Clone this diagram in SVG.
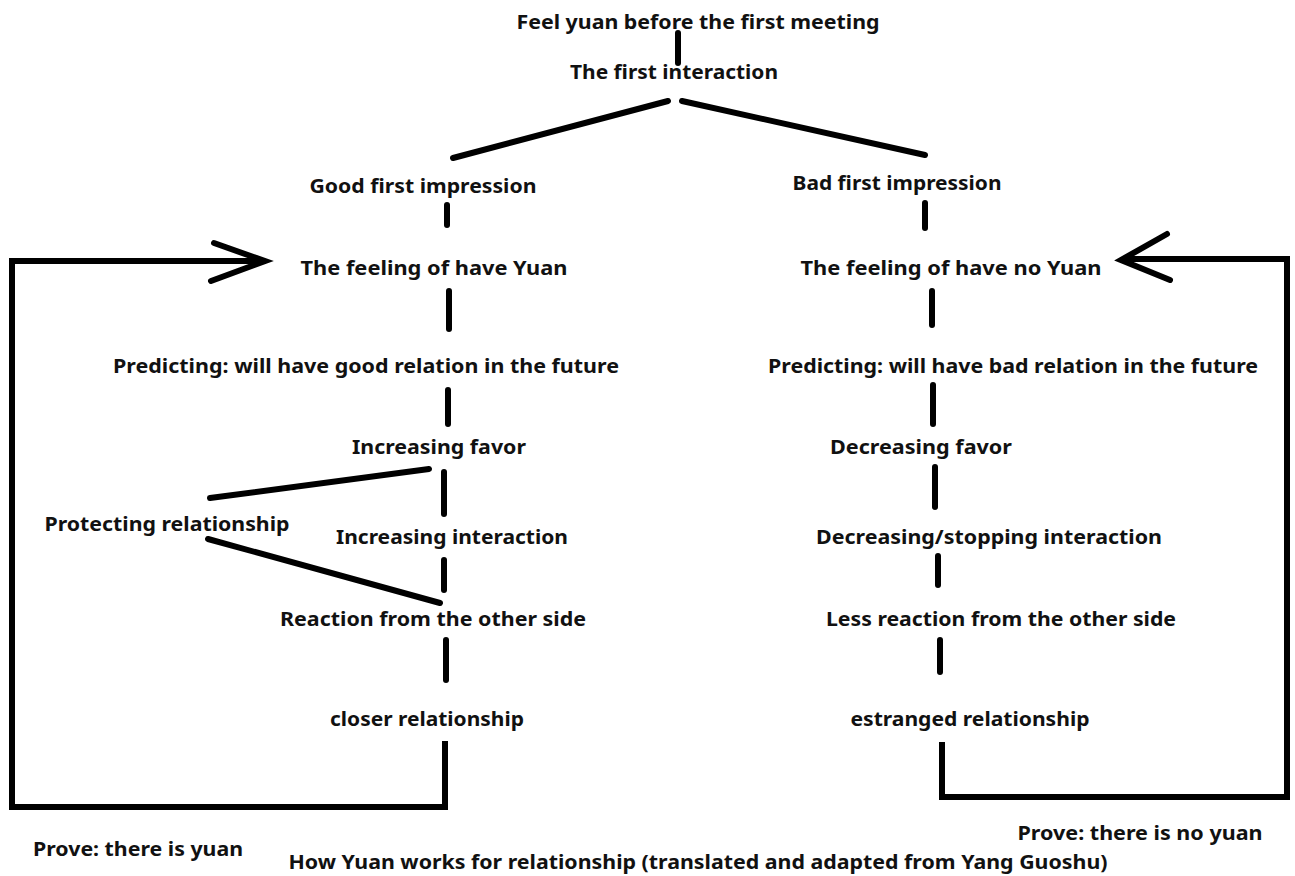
<svg xmlns="http://www.w3.org/2000/svg" width="1295" height="876" viewBox="0 0 1295 876">
<style>
text{font-family:"Noto Sans","Open Sans","DejaVu Sans",sans-serif;font-weight:bold;font-size:19.5px;fill:#111;text-anchor:middle}
.ln{stroke:#000;stroke-width:6;fill:none;stroke-linecap:round;stroke-linejoin:miter}
</style>
<rect width="1295" height="876" fill="#fff"/>
<g id="connectors">
<line class="ln" x1="678" y1="33" x2="678" y2="63"/>
<line class="ln" x1="453" y1="158" x2="668" y2="101"/>
<line class="ln" x1="682" y1="101" x2="925" y2="155"/>
<line class="ln" x1="447" y1="205" x2="447" y2="225"/>
<line class="ln" x1="449" y1="291" x2="449" y2="329"/>
<line class="ln" x1="448" y1="390" x2="448" y2="424"/>
<line class="ln" x1="444" y1="472" x2="444" y2="514"/>
<line class="ln" x1="444" y1="560" x2="444" y2="590"/>
<line class="ln" x1="446" y1="640" x2="446" y2="680"/>
<line class="ln" x1="210" y1="498" x2="429" y2="469"/>
<line class="ln" x1="208" y1="539" x2="440" y2="603"/>
<path class="ln" style="stroke-linecap:butt" d="M445 741 V807 H12 V261 H262"/>
<path class="ln" d="M214 243 L265 261 L211 281"/>
<line class="ln" x1="925" y1="203" x2="925" y2="228"/>
<line class="ln" x1="932" y1="291" x2="932" y2="325"/>
<line class="ln" x1="933" y1="385" x2="933" y2="424"/>
<line class="ln" x1="935" y1="467" x2="935" y2="507"/>
<line class="ln" x1="938" y1="556" x2="938" y2="585"/>
<line class="ln" x1="940" y1="640" x2="940" y2="672"/>
<path class="ln" style="stroke-linecap:butt" d="M942 742 V797 H1287 V259 H1124"/>
<path class="ln" d="M1167 234 L1121 260 L1170 280"/>
</g>
<g id="n-feel"><text x="698" y="29" textLength="363" lengthAdjust="spacingAndGlyphs">Feel yuan before the first meeting</text></g>
<g id="n-first"><text x="674" y="79" textLength="208" lengthAdjust="spacingAndGlyphs">The first interaction</text></g>
<g id="n-good"><text x="423" y="193" textLength="227" lengthAdjust="spacingAndGlyphs">Good first impression</text></g>
<g id="n-bad"><text x="897" y="190" textLength="209" lengthAdjust="spacingAndGlyphs">Bad first impression</text></g>
<g id="n-haveyuan"><text x="434" y="275" textLength="267" lengthAdjust="spacingAndGlyphs">The feeling of have Yuan</text></g>
<g id="n-noyuan"><text x="951" y="275" textLength="301" lengthAdjust="spacingAndGlyphs">The feeling of have no Yuan</text></g>
<g id="n-predgood"><text x="366" y="373" textLength="506" lengthAdjust="spacingAndGlyphs">Predicting: will have good relation in the future</text></g>
<g id="n-predbad"><text x="1013" y="373" textLength="490" lengthAdjust="spacingAndGlyphs">Predicting: will have bad relation in the future</text></g>
<g id="n-incfavor"><text x="439" y="454" textLength="174" lengthAdjust="spacingAndGlyphs">Increasing favor</text></g>
<g id="n-decfavor"><text x="921" y="454" textLength="182" lengthAdjust="spacingAndGlyphs">Decreasing favor</text></g>
<g id="n-protect"><text x="167" y="531" textLength="245" lengthAdjust="spacingAndGlyphs">Protecting relationship</text></g>
<g id="n-incinter"><text x="452" y="544" textLength="232" lengthAdjust="spacingAndGlyphs">Increasing interaction</text></g>
<g id="n-decinter"><text x="989" y="544" textLength="346" lengthAdjust="spacingAndGlyphs">Decreasing/stopping interaction</text></g>
<g id="n-reaction"><text x="433" y="626" textLength="306" lengthAdjust="spacingAndGlyphs">Reaction from the other side</text></g>
<g id="n-lessreaction"><text x="1001" y="626" textLength="350" lengthAdjust="spacingAndGlyphs">Less reaction from the other side</text></g>
<g id="n-closer"><text x="427" y="726" textLength="194" lengthAdjust="spacingAndGlyphs">closer relationship</text></g>
<g id="n-estranged"><text x="970" y="726" textLength="239" lengthAdjust="spacingAndGlyphs">estranged relationship</text></g>
<g id="n-proveyes"><text x="138" y="856" textLength="210" lengthAdjust="spacingAndGlyphs">Prove: there is yuan</text></g>
<g id="n-proveno"><text x="1140" y="840" textLength="245" lengthAdjust="spacingAndGlyphs">Prove: there is no yuan</text></g>
<g id="n-title"><text x="698" y="869" textLength="819" lengthAdjust="spacingAndGlyphs">How Yuan works for relationship (translated and adapted from Yang Guoshu)</text></g>
</svg>
